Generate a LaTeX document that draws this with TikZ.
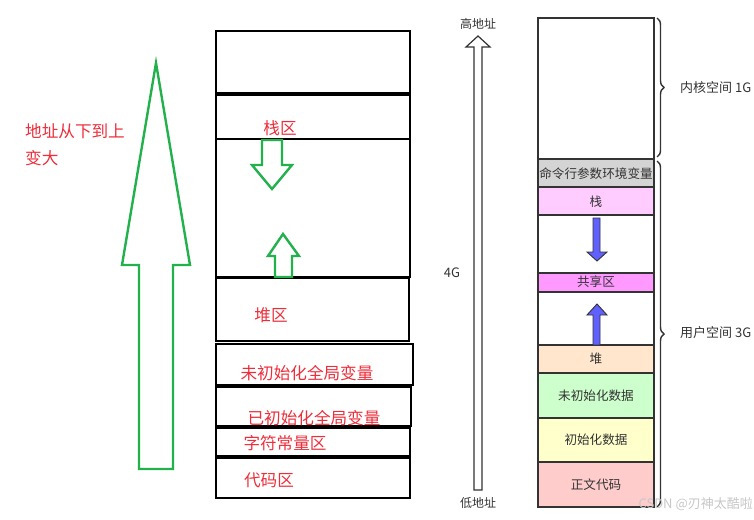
\documentclass[tikz,border=0pt]{standalone}
\usepackage{fontspec}
\newfontfamily\cjk{Noto Sans CJK SC}
\usetikzlibrary{decorations.pathreplacing}
\definecolor{grn}{HTML}{22B14C}
\definecolor{redtxt}{HTML}{EE2D3A}
\definecolor{dk}{HTML}{333333}
\definecolor{cmdgray}{HTML}{D4D4D4}
\definecolor{stackpink}{HTML}{FFCCFF}
\definecolor{sharemag}{HTML}{FF99FF}
\definecolor{heappeach}{HTML}{FFE6CC}
\definecolor{bssgreen}{HTML}{CCFFCC}
\definecolor{datayellow}{HTML}{FFFFCC}
\definecolor{textred}{HTML}{FFCCCC}
\definecolor{bluearrow}{HTML}{6060FF}
\begin{document}
\begin{tikzpicture}[x=1pt,y=-1pt,
  blk/.style={draw=black,line width=2.8pt},
  garrow/.style={draw=grn,line width=2.4pt,line join=miter},
  redlbl/.style={text=redtxt,font=\cjk\fontsize{16.6}{18}\selectfont,inner sep=0pt},
  seg/.style={draw=dk,line width=1.2pt},
  seglbl/.style={text=dk,font=\cjk\fontsize{12.6}{14}\selectfont,inner sep=0pt},
  sidelbl/.style={text=dk,font=\cjk\fontsize{13}{15}\selectfont,inner sep=0pt},
  barrow/.style={draw=dk,fill=bluearrow,line width=0.9pt,line join=miter},
  brc/.style={draw=dk,line width=1.4pt,decorate,decoration={brace,amplitude=7pt}}
]
\useasboundingbox (0,0) rectangle (754,519);

% ---------- left big green arrow ----------
\draw[garrow] (156,63) -- (190,265) -- (173,265) -- (173,469) -- (139,469) -- (139,265) -- (122,265) -- cycle;
\node[redlbl,anchor=west] (t1) at (25,131) {地址从下到上};
\node[redlbl,anchor=west] (t2) at (25,158) {变大};

% ---------- middle boxes ----------
\draw[blk] (216,31) rectangle (410,93);
\draw[blk] (216,95) rectangle (410,139);
\draw[blk] (216,139) rectangle (410,277);
\draw[blk] (216,278) rectangle (409,341);
\draw[blk] (216,344) rectangle (413,385);
\draw[blk] (216,387) rectangle (411,426);
\draw[blk] (216,428) rectangle (410,456);
\draw[blk] (216,458) rectangle (410,498);

% small green arrows
\draw[garrow] (262,140) -- (282,140) -- (282,165) -- (292,165) -- (272,189) -- (252,165) -- (262,165) -- cycle;
\draw[garrow] (283,234) -- (299,256) -- (292,256) -- (292,277) -- (275,277) -- (275,256) -- (268,256) -- cycle;

\node[redlbl] (stk) at (280,128) {栈区};
\node[redlbl] (hp) at (271,315) {堆区};
\node[redlbl] (bss) at (307,373) {未初始化全局变量};
\node[redlbl] (dat) at (314,418) {已初始化全局变量};
\node[redlbl] (str) at (285,443) {字符常量区};
\node[redlbl] (code) at (269,480) {代码区};

% ---------- right address arrow ----------
\draw[draw=dk,line width=1.2pt,line join=miter] (478,36) -- (490,47) -- (482,47) -- (482,490) -- (474,490) -- (474,47) -- (466,47) -- cycle;
\node[sidelbl,font=\cjk\fontsize{12}{14}\selectfont] (hi) at (478,24) {高地址};
\node[sidelbl,font=\cjk\fontsize{12}{14}\selectfont] (lo) at (478,503) {低地址};
\node[sidelbl] (fourg) at (452,273) {4G};

% ---------- right memory column ----------
\draw[seg,fill=white] (538,18) rectangle (654,159);
\draw[seg,fill=cmdgray] (538,159) rectangle (654,187);
\draw[seg,fill=stackpink] (538,187) rectangle (654,215);
\draw[seg,fill=white] (538,215) rectangle (654,273);
\draw[seg,fill=sharemag] (538,273) rectangle (654,292);
\draw[seg,fill=white] (538,292) rectangle (654,345);
\draw[seg,fill=heappeach] (538,345) rectangle (654,373);
\draw[seg,fill=bssgreen] (538,373) rectangle (654,418);
\draw[seg,fill=datayellow] (538,418) rectangle (654,462);
\draw[seg,fill=textred] (538,462) rectangle (654,507);

\node[seglbl] (cmd) at (596,174) {命令行参数环境变量};
\node[seglbl] (rstk) at (596,202) {栈};
\node[seglbl] (shr) at (596,282) {共享区};
\node[seglbl] (rhp) at (596,359) {堆};
\node[seglbl] (rbss) at (596,396) {未初始化数据};
\node[seglbl] (rdat) at (596,440) {初始化数据};
\node[seglbl] (rtxt) at (596,485) {正文代码};

% blue arrows
\draw[barrow] (593,218) -- (600,218) -- (600,252) -- (607,252) -- (597,261) -- (587,252) -- (593,252) -- cycle;
\draw[barrow] (597,304) -- (607,315) -- (600,315) -- (600,345) -- (593,345) -- (593,315) -- (587,315) -- cycle;

% braces
\draw[brc] (657,18) -- (657,157);
\draw[brc] (657,161) -- (657,507);
\node[sidelbl,anchor=west] (kern) at (680,88) {内核空间 1G};
\node[sidelbl,anchor=west] (user) at (680,333) {用户空间 3G};

% watermark
\node[text=black!22,font=\cjk\fontsize{13}{15}\selectfont,anchor=east,inner sep=0pt] (wm) at (753,504) {CSDN @刃神太酷啦};
\end{tikzpicture}
\end{document}
